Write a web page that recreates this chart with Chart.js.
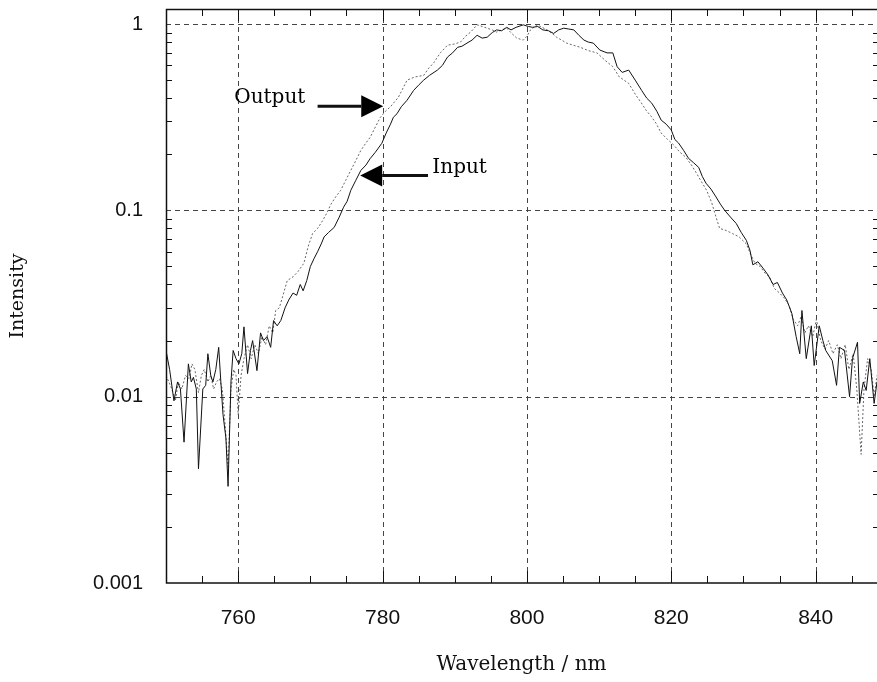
<!DOCTYPE html>
<html>
<head>
<meta charset="utf-8">
<script src="https://cdn.jsdelivr.net/npm/chart.js@4.4.1/dist/chart.umd.min.js"></script>
<style>
  html, body { margin: 0; padding: 0; background: #fff; }
</style>
</head>
<body>
<canvas id="myChart" width="877" height="682"></canvas>
<script>
// data
const inputWl = [
  750.0, 750.5, 751.1, 751.6, 752.0, 752.5, 753.1, 753.5, 753.8, 754.2,
  754.5, 755.1, 755.5, 755.8, 756.2, 756.5, 756.9, 757.3, 757.6, 757.9,
  758.3, 758.6, 759.0, 759.3, 759.7, 760.1, 760.5, 760.8, 761.3, 761.7,
  762.0, 762.6, 763.1, 763.5, 764.0, 764.5, 764.9, 765.4, 765.9, 766.5,
  767.0, 767.6, 768.1, 768.6, 769.0, 769.5, 770.0, 770.5, 771.0, 771.5,
  771.9, 772.5, 773.3, 774.0, 774.6, 775.1, 775.6, 776.3, 777.0, 777.7,
  778.3, 779.0, 779.9, 780.5, 781.1, 781.5, 782.0, 782.6, 783.4, 784.3,
  785.0, 785.7, 786.5, 787.6, 788.3, 789.0, 789.7, 790.4, 791.0, 791.7,
  792.4, 793.1, 793.8, 794.5, 795.2, 795.8, 796.5, 797.2, 797.8, 798.5,
  799.5, 800.2, 800.8, 801.5, 802.2, 803.0, 803.7, 804.4, 805.1, 805.8,
  806.5, 807.2, 807.9, 808.5, 809.2, 810.1, 811.1, 811.9, 812.5, 813.2,
  814.1, 815.0, 815.9, 816.6, 817.3, 818.0, 818.6, 819.3, 820.0, 820.5,
  821.0, 821.7, 822.4, 823.1, 823.8, 824.3, 824.8, 825.5, 826.2, 826.8,
  827.4, 828.2, 829.0, 829.7, 830.4, 830.9, 831.3, 832.0, 832.7, 833.4,
  834.1, 834.7, 835.4, 836.0, 836.7, 837.3, 837.8, 838.1, 838.7, 839.4,
  839.8, 840.5, 841.0, 841.4, 842.3, 842.9, 843.3, 844.0, 844.7, 845.1,
  845.8, 846.1, 846.6, 847.0, 847.5, 848.1, 848.5
];
const inputVal = [
  0.0177, 0.014, 0.0095, 0.012, 0.011, 0.0057, 0.015, 0.012, 0.0127, 0.011,
  0.0041, 0.011, 0.0115, 0.017, 0.013, 0.012, 0.014, 0.0184, 0.012, 0.008,
  0.006, 0.0033, 0.012, 0.0177, 0.016, 0.015, 0.017, 0.0237, 0.0133, 0.0177,
  0.020, 0.0138, 0.022, 0.020, 0.021, 0.0184, 0.0256, 0.024, 0.0256, 0.030,
  0.033, 0.036, 0.035, 0.040, 0.037, 0.042, 0.050, 0.055, 0.060, 0.066,
  0.072, 0.076, 0.081, 0.092, 0.104, 0.112, 0.128, 0.145, 0.164, 0.175,
  0.19, 0.205, 0.229, 0.26, 0.29, 0.316, 0.33, 0.36, 0.39, 0.44,
  0.47, 0.50, 0.53, 0.566, 0.60, 0.665, 0.70, 0.75, 0.76, 0.79,
  0.82, 0.87, 0.84, 0.85, 0.90, 0.93, 0.92, 0.96, 0.93, 0.96,
  0.99, 0.97, 0.96, 0.97, 0.93, 0.92, 0.89, 0.93, 0.95, 0.94,
  0.93, 0.87, 0.82, 0.80, 0.79, 0.725, 0.70, 0.70, 0.59, 0.55,
  0.566, 0.50, 0.44, 0.40, 0.376, 0.34, 0.305, 0.29, 0.27, 0.24,
  0.23, 0.21, 0.19, 0.18, 0.17, 0.152, 0.14, 0.13, 0.118, 0.108,
  0.10, 0.092, 0.085, 0.076, 0.069, 0.061, 0.051, 0.053, 0.049, 0.045,
  0.040, 0.041, 0.036, 0.033, 0.028, 0.021, 0.017, 0.029, 0.016, 0.024,
  0.0147, 0.024, 0.020, 0.0177, 0.0156, 0.0115, 0.0184, 0.0177, 0.010, 0.016,
  0.0196, 0.0092, 0.012, 0.0108, 0.016, 0.0092, 0.012
];
const outputWl = [
  750.0, 750.4, 750.8, 751.3, 751.7, 752.2, 752.7, 753.2, 753.6, 754.0,
  754.5, 754.9, 755.3, 755.8, 756.2, 756.6, 757.0, 757.4, 757.8, 758.2,
  758.6, 759.0, 759.4, 759.7, 760.0, 760.4, 760.8, 761.3, 761.8, 762.3,
  762.8, 763.3, 763.8, 764.3, 764.8, 765.2, 765.7, 766.3, 766.8, 767.6,
  768.3, 769.1, 769.7, 770.3, 771.0, 771.7, 772.3, 772.8, 773.5, 774.2,
  774.9, 775.6, 776.3, 777.0, 777.7, 778.3, 779.0, 779.7, 780.4, 781.1,
  782.2, 783.4, 784.5, 785.7, 786.4, 787.1, 788.0, 789.0, 789.9, 790.8,
  791.5, 792.2, 793.1, 793.8, 794.5, 795.2, 795.8, 796.5, 797.2, 797.9,
  798.6, 799.5, 800.0, 800.5, 801.4, 802.1, 802.8, 803.5, 804.1, 804.8,
  805.5, 806.4, 807.4, 808.5, 809.7, 810.8, 811.9, 812.8, 814.1, 815.1,
  815.8, 816.5, 817.2, 817.9, 818.6, 819.5, 820.3, 821.2, 822.0, 822.8,
  823.5, 824.2, 824.9, 825.6, 826.2, 826.7, 827.6, 828.5, 829.4, 830.4,
  831.0, 831.6, 832.3, 833.0, 833.6, 834.3, 835.0, 835.6, 836.3, 836.9,
  837.5, 838.0, 838.5, 839.0, 839.6, 840.1, 840.7, 841.3, 841.8, 842.4,
  843.0, 843.5, 844.1, 844.6, 845.2, 845.7, 846.3, 846.7, 847.2, 847.7,
  848.1, 848.5
];
const outputVal = [
  0.013, 0.012, 0.011, 0.0095, 0.012, 0.011, 0.013, 0.0125, 0.015, 0.014,
  0.0105, 0.013, 0.014, 0.012, 0.013, 0.011, 0.012, 0.0125, 0.011, 0.007,
  0.0042, 0.011, 0.014, 0.013, 0.008, 0.013, 0.016, 0.019, 0.016, 0.019,
  0.017, 0.021, 0.019, 0.024, 0.022, 0.029, 0.030, 0.036, 0.042, 0.044,
  0.047, 0.052, 0.064, 0.075, 0.080, 0.088, 0.097, 0.107, 0.118, 0.128,
  0.145, 0.164, 0.185, 0.21, 0.23, 0.247, 0.28, 0.316, 0.34, 0.36,
  0.405, 0.50, 0.52, 0.53, 0.58, 0.62, 0.70, 0.77, 0.78, 0.80,
  0.86, 0.905, 0.99, 0.97, 0.95, 0.93, 0.905, 0.93, 0.95, 0.89,
  0.84, 0.82, 0.86, 0.93, 0.99, 0.96, 0.93, 0.89, 0.85, 0.82,
  0.79, 0.77, 0.75, 0.72, 0.70, 0.64, 0.59, 0.52, 0.48, 0.415,
  0.38, 0.345, 0.32, 0.293, 0.26, 0.24, 0.225, 0.205, 0.193, 0.175,
  0.158, 0.142, 0.128, 0.11, 0.092, 0.08, 0.078, 0.075, 0.072, 0.066,
  0.058, 0.052, 0.050, 0.046, 0.044, 0.038, 0.036, 0.034, 0.031, 0.026,
  0.024, 0.027, 0.022, 0.024, 0.021, 0.026, 0.020, 0.018, 0.020, 0.017,
  0.019, 0.016, 0.019, 0.014, 0.017, 0.011, 0.0049, 0.011, 0.016, 0.014,
  0.010, 0.013
];
const xTicks = [760, 780, 800, 820, 840];
const yTicks = [0.001, 0.01, 0.1, 1];

// arrow annotations, in data units (wavelength, intensity)
const notes = [
  { text: 'Output', tx: 769.3, ty: 0.40, align: 'right', from: [771.0, 0.362], to: [780.1, 0.362] },
  { text: 'Input', tx: 786.9, ty: 0.170, align: 'left', from: [786.3, 0.154], to: [776.9, 0.154] }
];

const serif = '"DejaVu Serif", serif';
const sans = '"Liberation Sans", Arial, sans-serif';

// dashed grid, frame, inward ticks and arrows
const frame = {
  id: 'frame',
  beforeDatasetsDraw(chart) {
    const { ctx, chartArea: a, scales: { x, y } } = chart;
    ctx.save();
    ctx.strokeStyle = '#444';
    ctx.lineWidth = 1;
    ctx.setLineDash([5, 4]);
    xTicks.forEach(v => {
      const px = Math.round(x.getPixelForValue(v)) + 0.5;
      ctx.beginPath(); ctx.moveTo(px, a.top); ctx.lineTo(px, a.bottom); ctx.stroke();
    });
    yTicks.slice(1).forEach(v => {
      const py = Math.round(y.getPixelForValue(v)) + 0.5;
      ctx.beginPath(); ctx.moveTo(a.left, py); ctx.lineTo(a.right, py); ctx.stroke();
    });
    ctx.restore();
  },
  afterDatasetsDraw(chart) {
    const { ctx, chartArea: a, scales: { x, y } } = chart;
    ctx.save();
    ctx.strokeStyle = '#111';
    ctx.lineWidth = 1;
    ctx.setLineDash([]);
    // minor x ticks, bottom and top
    for (let v = 755; v < x.max; v += 5) {
      const px = Math.round(x.getPixelForValue(v)) + 0.5;
      const len = v % 20 === 0 ? 12 : 7;
      ctx.beginPath(); ctx.moveTo(px, a.bottom); ctx.lineTo(px, a.bottom - len); ctx.stroke();
      ctx.beginPath(); ctx.moveTo(px, a.top); ctx.lineTo(px, a.top + len); ctx.stroke();
    }
    // minor y ticks, left and right
    for (let d = 0.001; d < 1.5; d *= 10) {
      for (let m = 2; m <= 9; m++) {
        const v = d * m;
        if (v > y.max) break;
        const py = Math.round(y.getPixelForValue(v)) + 0.5;
        ctx.beginPath(); ctx.moveTo(a.left, py); ctx.lineTo(a.left + 6, py); ctx.stroke();
        ctx.beginPath(); ctx.moveTo(a.right, py); ctx.lineTo(a.right - 4, py); ctx.stroke();
      }
    }
    // frame
    ctx.lineWidth = 1.5;
    ctx.beginPath();
    ctx.moveTo(a.right, a.top + 0.5);
    ctx.lineTo(a.left + 0.5, a.top + 0.5);
    ctx.lineTo(a.left + 0.5, a.bottom);
    ctx.lineTo(a.right, a.bottom);
    ctx.stroke();

    // arrows + labels
    ctx.fillStyle = '#000';
    ctx.font = '20px ' + serif;
    ctx.textBaseline = 'middle';
    notes.forEach(n => {
      const x0 = x.getPixelForValue(n.from[0]), y0 = y.getPixelForValue(n.from[1]);
      const x1 = x.getPixelForValue(n.to[0]), y1 = y.getPixelForValue(n.to[1]);
      const dir = Math.sign(x1 - x0);
      const head = 22;
      ctx.lineWidth = 3;
      ctx.beginPath(); ctx.moveTo(x0, y0); ctx.lineTo(x1 - dir * head, y1); ctx.stroke();
      ctx.beginPath();
      ctx.moveTo(x1, y1);
      ctx.lineTo(x1 - dir * head, y1 - 11);
      ctx.lineTo(x1 - dir * head, y1 + 11);
      ctx.closePath();
      ctx.fill();
      ctx.textAlign = n.align;
      ctx.fillText(n.text, x.getPixelForValue(n.tx), y.getPixelForValue(n.ty));
    });
    ctx.restore();
  }
};

const data = {
  datasets: [
    {
      label: 'Input',
      data: inputWl.map((w, i) => ({ x: w, y: inputVal[i] })),
      borderColor: '#111',
      borderWidth: 1,
      pointRadius: 0,
      tension: 0
    },
    {
      label: 'Output',
      data: outputWl.map((w, i) => ({ x: w, y: outputVal[i] })),
      borderColor: '#666',
      borderWidth: 1,
      borderDash: [2, 2],
      pointRadius: 0,
      tension: 0
    }
  ]
};

const options = {
  responsive: false,
  animation: false,
  layout: { padding: { top: 9, right: 0, bottom: 0, left: 0 } },
  plugins: { legend: { display: false }, tooltip: { enabled: false } },
  scales: {
    x: {
      type: 'linear',
      min: 750,
      max: 848.5,
      grid: { display: false },
      border: { display: false },
      afterBuildTicks: s => { s.ticks = xTicks.map(v => ({ value: v })); },
      afterFit: s => { s.height = 99; s.paddingLeft = 0; s.paddingRight = 0; },
      ticks: { color: '#111', padding: 15, maxRotation: 0, font: { family: sans, size: 21 } },
      title: { display: true, text: 'Wavelength / nm', color: '#111', padding: { top: 0, bottom: 5 }, font: { family: serif, size: 20 } }
    },
    y: {
      type: 'logarithmic',
      min: 0.001,
      max: 1.204,
      grid: { display: false },
      border: { display: false },
      afterBuildTicks: s => { s.ticks = yTicks.map(v => ({ value: v })); },
      afterFit: s => { s.width = 166; s.paddingTop = 0; s.paddingBottom = 0; },
      ticks: { color: '#111', padding: 15, callback: v => String(v), font: { family: sans, size: 20 } },
      title: { display: true, text: 'Intensity', color: '#111', padding: { top: 7, bottom: 0 }, font: { family: serif, size: 19 } }
    }
  }
};

const config = { type: 'line', data, options, plugins: [frame] };

const myChart = new Chart(document.getElementById('myChart'), config);
</script>
</body>
</html>
